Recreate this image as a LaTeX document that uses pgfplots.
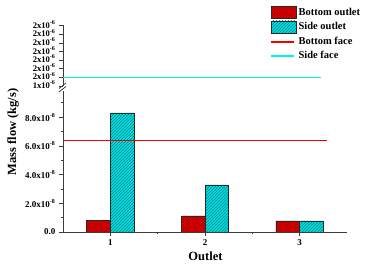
\documentclass[border=0pt]{standalone}
\usepackage{fontspec}
\setmainfont{Liberation Serif}
\usepackage{pgfplots}
\pgfplotsset{compat=1.18}
\usetikzlibrary{patterns}
\definecolor{barred}{RGB}{225,0,0}
\definecolor{barcyan}{RGB}{0,225,225}
\definecolor{hatchred}{RGB}{150,0,0}
\definecolor{hatchcyan}{RGB}{0,130,140}
\definecolor{linecyan}{RGB}{0,240,240}
\definecolor{linered}{RGB}{240,0,0}
\definecolor{axgray}{RGB}{60,60,60}
\definecolor{edge}{RGB}{40,40,40}
\begin{document}
\begin{tikzpicture}[x=1pt,y=1pt]
\useasboundingbox (0,0) rectangle (372,264);
\pgfplotsset{
  brk/.style={
    scale only axis, width=284pt,
    xmin=0.5, xmax=3.5,
    scaled y ticks=false,
    tick align=outside, major tick length=4pt, minor tick length=2pt,
    tick style={axgray, line width=0.8pt},
    axis line style={line width=0.9pt, axgray},
    ticklabel style={font=\bfseries\fontsize{9}{10}\selectfont},
  }
}
\begin{axis}[brk,
  at={(63pt,32pt)}, anchor=south west, height=140.6pt,
  ymin=0, ymax=9.8e-8,
  axis x line*=bottom, axis y line*=left,
  xtick={1,2,3}, xticklabels={1,2,3}, minor xtick={1.5,2.5},
  ytick={0,2e-8,4e-8,6e-8,8e-8},
  yticklabels={0.0,2.0x10\textsuperscript{-8},4.0x10\textsuperscript{-8},6.0x10\textsuperscript{-8},8.0x10\textsuperscript{-8}},
  minor ytick={1e-8,3e-8,5e-8,7e-8,9e-8},
]
\addplot[ybar, bar width=23.7pt, bar shift=-11.85pt, fill=barred, draw=edge, line width=0.5pt,
  postaction={pattern=north east lines, pattern color=hatchred}]
  coordinates {(1,0.79e-8) (2,1.12e-8) (3,0.77e-8)};
\addplot[ybar, bar width=23.7pt, bar shift=11.85pt, fill=barcyan, draw=edge, line width=0.5pt,
  postaction={pattern=north east lines, pattern color=hatchcyan}]
  coordinates {(1,8.3e-8) (2,3.28e-8) (3,0.77e-8)};
\addplot[draw=linered, line width=1.2pt] coordinates {(0.5,6.39e-8) (3.29,6.39e-8)};
\end{axis}
\begin{axis}[brk,
  at={(63pt,178pt)}, anchor=south west, height=61pt,
  ymin=1.4, ymax=2.11,
  axis x line*=bottom, axis y line*=left,
  x axis line style={draw=none}, xtick=\empty,
  ytick={1.4,1.5,1.6,1.7,1.8,1.9,2.0,2.1},
  yticklabel style={font=\bfseries\fontsize{8.6}{9}\selectfont, inner ysep=0pt, text height=5pt, text depth=0pt},
  yticklabels={1x10\textsuperscript{-6},2x10\textsuperscript{-6},2x10\textsuperscript{-6},2x10\textsuperscript{-6},2x10\textsuperscript{-6},2x10\textsuperscript{-6},2x10\textsuperscript{-6},2x10\textsuperscript{-6}},
  legend style={at={(axis description cs:0.732,1.31)}, anchor=north west, draw=none, fill=none,
    inner sep=0pt, row sep=1.5pt, cells={anchor=west},
    font=\bfseries\fontsize{10.5}{12}\selectfont},
]
\addlegendimage{legend image code/.code={\draw[fill=barred, draw=edge, line width=0.5pt, postaction={pattern=north east lines, pattern color=hatchred}] (0pt,-6pt) rectangle (25pt,6pt);}}
\addlegendentry{Bottom outlet}
\addlegendimage{legend image code/.code={\draw[fill=barcyan, draw=edge, line width=0.5pt, postaction={pattern=north east lines, pattern color=hatchcyan}] (0pt,-6pt) rectangle (25pt,6pt);}}
\addlegendentry{Side outlet}
\addlegendimage{legend image code/.code={\fill[linered] (0pt,-0.5pt) rectangle (22pt,0.5pt);}}
\addlegendentry{Bottom face}
\addlegendimage{legend image code/.code={\fill[linecyan] (0pt,-0.5pt) rectangle (22pt,0.5pt);}}
\addlegendentry{Side face}
\addplot[draw=linecyan, line width=1.6pt] coordinates {(0.5,1.5) (3.23,1.5)};
\end{axis}
\draw[line width=0.8pt, axgray] (59,175.5) -- (66,181) (59,172) -- (66,177.5);
\node[rotate=90, font=\bfseries\fontsize{12.5}{14}\selectfont] at (13,132) {Mass flow (kg/s)};
\node[font=\bfseries\fontsize{12.5}{14}\selectfont] at (205.5,8) {Outlet};
\end{tikzpicture}
\end{document}
